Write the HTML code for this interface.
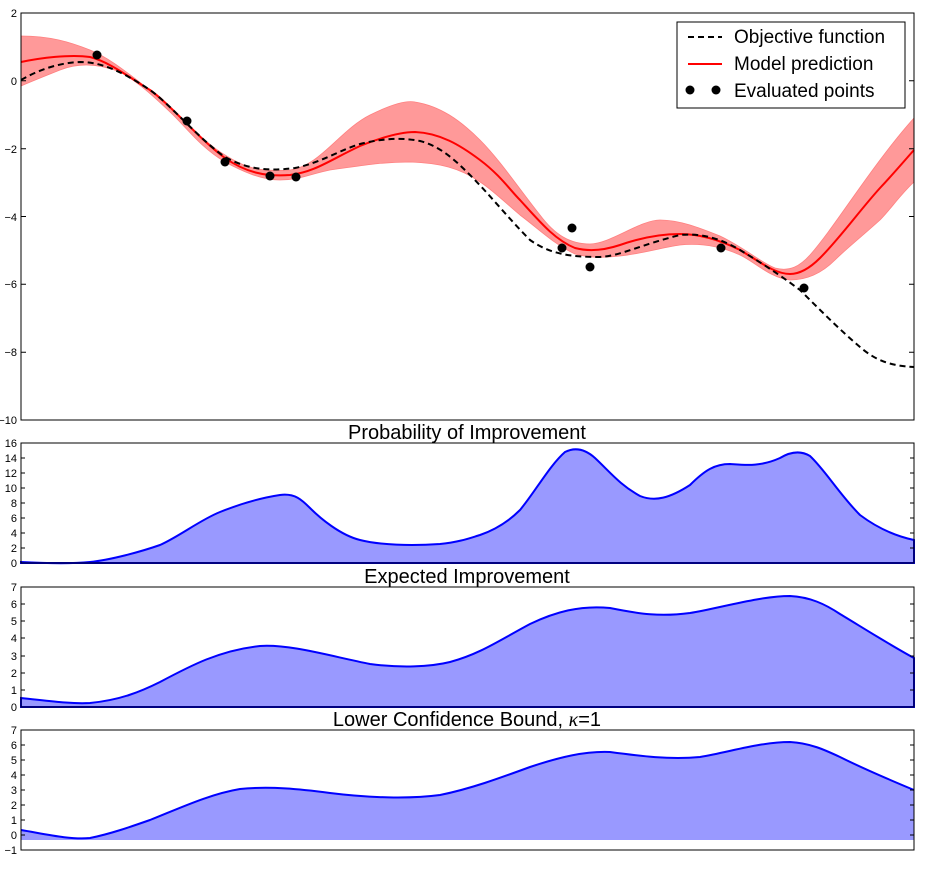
<!DOCTYPE html>
<html><head><style>body{margin:0;background:#fff}svg{display:block}text{font-family:"Liberation Sans",sans-serif}</style></head><body>
<svg width="942" height="874" viewBox="0 0 942 874" xmlns="http://www.w3.org/2000/svg">
<rect width="942" height="874" fill="#fff"/>
<path d="M21,36 C50,36 70,42 90,50 C110,58 130,75 150,90 C170,105 200,140 225,155 C245,168 260,172 290,170 C320,166 340,130 370,115 C390,105 405,100 415,102 C440,106 460,120 480,140 C500,160 520,190 540,215 C555,235 570,244 590,244 C610,244 640,220 660,220 C680,220 700,228 720,236 C745,248 760,262 775,268 C790,272 800,266 810,255 C830,232 850,200 880,160 C895,140 905,128 914,118 L914,182 C900,195 890,210 880,220 C860,238 845,250 835,260 C820,275 805,280 790,280 C770,278 755,262 740,255 C720,246 700,243 680,245 C660,248 640,254 620,256 C600,258 590,258 575,254 C555,245 540,230 520,215 C500,198 490,188 480,182 C460,168 440,163 410,162 C380,162 360,166 330,170 C310,174 300,180 280,180 C260,180 240,170 225,162 C200,147 187,128 170,112 C150,93 135,80 120,72 C100,64 80,62 60,70 C45,76 30,82 21,86 Z" fill="#ff9999" stroke="#ff8080" stroke-width="0.8"/>
<path d="M21,62 C40,58 70,54 90,57 C110,62 130,78 150,90 C170,104 200,140 225,158 C245,172 265,177 290,175 C315,172 330,160 360,146 C380,138 400,132 415,132 C440,133 460,145 480,160 C500,175 510,190 520,200 C540,222 555,240 575,248 C590,252 605,250 620,245 C640,238 660,234 680,234 C700,234 720,240 740,250 C760,262 775,274 790,274 C800,274 810,268 820,258 C840,238 860,210 880,188 C895,172 905,160 914,150" fill="none" stroke="#ff0000" stroke-width="2"/>
<path d="M21,80 C35,72 55,63 80,62 C100,62 120,70 150,90 C170,104 200,140 225,157 C245,168 265,172 295,168 C320,163 340,150 360,144 C380,139 400,137 420,141 C440,146 455,160 470,175 C490,195 510,220 530,240 C550,254 570,257 600,257 C620,256 640,245 680,235 C700,233 720,238 740,250 C760,262 780,275 800,290 C820,310 840,330 860,347 C875,360 890,366 914,367" fill="none" stroke="#000" stroke-width="2" stroke-dasharray="6,4"/>
<g fill="#000"><circle cx="97" cy="55" r="4.5"/><circle cx="187" cy="121" r="4.5"/><circle cx="225" cy="162" r="4.5"/><circle cx="270" cy="176" r="4.5"/><circle cx="296" cy="177" r="4.5"/><circle cx="562" cy="248" r="4.5"/><circle cx="572" cy="228" r="4.5"/><circle cx="590" cy="267" r="4.5"/><circle cx="721" cy="248" r="4.5"/><circle cx="804" cy="288" r="4.5"/></g>
<rect x="21" y="13" width="893" height="407" fill="none" stroke="#000" stroke-width="1"/>
<g stroke="#000"><path d="M21,13h5M21,80.8h5M21,148.7h5M21,216.5h5M21,284.3h5M21,352.2h5M914,13h-5M914,80.8h-5M914,148.7h-5M914,216.5h-5M914,284.3h-5M914,352.2h-5"/></g>
<g font-size="11" text-anchor="end" fill="#000"><text x="17" y="17">2</text><text x="17" y="85">0</text><text x="17" y="153">−2</text><text x="17" y="221">−4</text><text x="17" y="288">−6</text><text x="17" y="356">−8</text><text x="17" y="424">−10</text></g>
<rect x="677" y="22" width="228" height="86" fill="#fff" stroke="#000"/>
<path d="M688,37h34" stroke="#000" stroke-width="2" stroke-dasharray="6,4"/>
<path d="M688,64h34" stroke="#f00" stroke-width="2"/>
<circle cx="690" cy="90" r="4.5"/><circle cx="716" cy="90" r="4.5"/>
<g font-size="19" fill="#000"><text x="734" y="43">Objective function</text><text x="734" y="70">Model prediction</text><text x="734" y="97">Evaluated points</text></g>
<g font-size="20" text-anchor="middle" fill="#000"><text x="467" y="439">Probability of Improvement</text><text x="467" y="583">Expected Improvement</text><text x="467" y="726">Lower Confidence Bound, <tspan font-family="Liberation Serif" font-style="italic">κ</tspan>=1</text></g>
<path d="M21,562 C40,563 70,564 90,562 C110,560 140,552 160,545 C180,536 200,520 220,512 C240,504 260,498 280,495 C295,493 302,500 310,508 C320,518 340,535 360,540 C380,545 410,546 440,544 C460,542 470,538 480,535 C500,528 512,518 520,510 C535,492 550,465 565,452 C575,447 585,449 595,458 C610,472 620,485 640,496 C655,502 670,498 690,485 C705,470 715,464 730,464 C745,465 760,467 780,458 C790,452 800,450 810,456 C825,470 840,495 860,515 C880,530 900,537 914,540 L914,563 L21,563 Z" fill="#9999ff" stroke="#0000ff" stroke-width="2"/>
<rect x="21" y="443" width="893" height="120" fill="none" stroke="#000"/>
<g stroke="#000"><path d="M21,548h4M21,533h4M21,518h4M21,503h4M21,488h4M21,473h4M21,458h4M914,548h-4M914,533h-4M914,518h-4M914,503h-4M914,488h-4M914,473h-4M914,458h-4"/></g>
<g font-size="11" text-anchor="end" fill="#000"><text x="17" y="447">16</text><text x="17" y="462">14</text><text x="17" y="477">12</text><text x="17" y="492">10</text><text x="17" y="507">8</text><text x="17" y="522">6</text><text x="17" y="537">4</text><text x="17" y="552">2</text><text x="17" y="567">0</text></g>
<path d="M21,698 C50,701 70,704 90,703 C120,700 140,692 160,682 C190,666 220,650 260,646 C290,644 330,656 370,664 C400,668 430,667 450,662 C480,654 500,640 530,624 C555,612 580,605 610,608 C640,614 660,617 690,613 C720,608 760,596 790,596 C810,597 825,604 840,614 C860,626 890,645 914,658 L914,707 L21,707 Z" fill="#9999ff" stroke="#0000ff" stroke-width="2"/>
<rect x="21" y="587" width="893" height="120" fill="none" stroke="#000"/>
<g stroke="#000"><path d="M21,690h4M21,673h4M21,656h4M21,638h4M21,621h4M21,604h4M914,690h-4M914,673h-4M914,656h-4M914,638h-4M914,621h-4M914,604h-4"/></g>
<g font-size="11" text-anchor="end" fill="#000"><text x="17" y="591">7</text><text x="17" y="608">6</text><text x="17" y="625">5</text><text x="17" y="642">4</text><text x="17" y="660">3</text><text x="17" y="677">2</text><text x="17" y="694">1</text><text x="17" y="711">0</text></g>
<path d="M21,830 C45,834 70,840 90,838 C110,834 130,827 150,820 C180,808 210,794 240,789 C270,786 300,789 330,793 C370,798 410,799 440,795 C470,789 500,778 530,767 C560,757 585,751 610,752 C640,756 670,760 700,757 C730,752 760,742 790,742 C810,743 825,750 840,757 C860,767 890,780 914,790 L914,840 L21,840 Z" fill="#9999ff" stroke="none"/>
<path d="M21,830 C45,834 70,840 90,838 C110,834 130,827 150,820 C180,808 210,794 240,789 C270,786 300,789 330,793 C370,798 410,799 440,795 C470,789 500,778 530,767 C560,757 585,751 610,752 C640,756 670,760 700,757 C730,752 760,742 790,742 C810,743 825,750 840,757 C860,767 890,780 914,790" fill="none" stroke="#0000ff" stroke-width="2"/>
<rect x="21" y="730" width="893" height="120" fill="none" stroke="#000"/>
<g stroke="#000"><path d="M21,835h4M21,820h4M21,805h4M21,790h4M21,775h4M21,760h4M21,745h4M914,835h-4M914,820h-4M914,805h-4M914,790h-4M914,775h-4M914,760h-4M914,745h-4"/></g>
<g font-size="11" text-anchor="end" fill="#000"><text x="17" y="734">7</text><text x="17" y="749">6</text><text x="17" y="764">5</text><text x="17" y="779">4</text><text x="17" y="794">3</text><text x="17" y="809">2</text><text x="17" y="824">1</text><text x="17" y="839">0</text><text x="17" y="854">−1</text></g>
</svg>
</body></html>
